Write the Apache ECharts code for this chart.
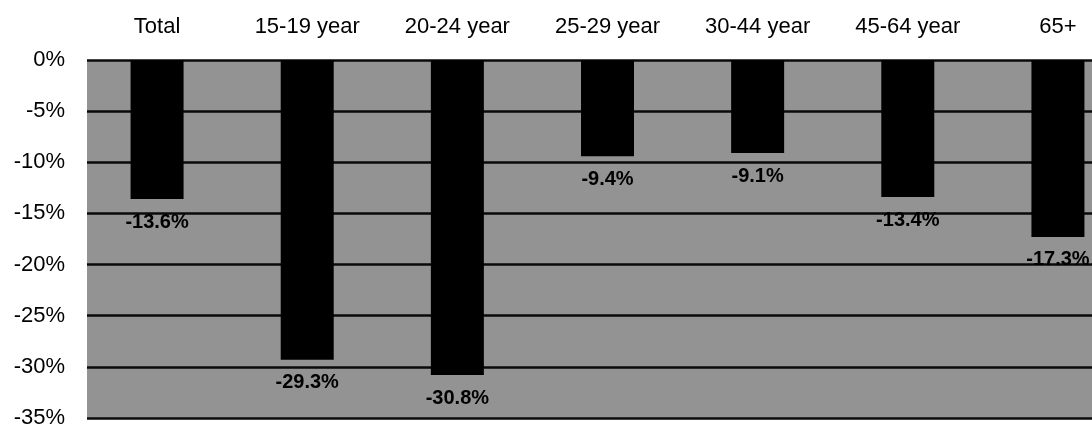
<!DOCTYPE html>
<html>
<head>
<meta charset="utf-8">
<script src="https://cdn.jsdelivr.net/npm/echarts@6/dist/echarts.min.js"></script>
<style>
  html, body { margin: 0; padding: 0; background: #fff; }
  #chart { width: 1092px; height: 428px; }
</style>
</head>
<body>
<div id="chart"></div>
<script>
// Percentage change by age group
const categories = ['Total', '15-19 year', '20-24 year', '25-29 year', '30-44 year', '45-64 year', '65+'];
const changes = [-13.6, -29.3, -30.8, -9.4, -9.1, -13.4, -17.3];
const yMin = -35;
const yMax = 0;
const yStep = 5;

const FONT = "'Liberation Sans', Arial, Helvetica, sans-serif";

const chart = echarts.init(document.getElementById('chart'), null, { renderer: 'canvas' });

chart.setOption({
  backgroundColor: '#ffffff',
  animation: false,
  grid: {
    // the panel runs on past the right edge of the page
    left: 82,
    width: 1051,
    top: 60,
    height: 358,
    outerBoundsMode: 'none',
    containLabel: false,
    show: true,
    backgroundColor: '#939393',
    borderWidth: 0
  },
  xAxis: {
    type: 'category',
    position: 'top',
    data: categories,
    axisLine: { show: false },
    axisTick: { show: false },
    axisLabel: {
      margin: 22,
      fontFamily: FONT,
      fontSize: 22,
      color: '#000'
    },
    splitLine: { show: false }
  },
  yAxis: {
    type: 'value',
    min: yMin,
    max: yMax,
    interval: yStep,
    axisLine: { show: false },
    axisTick: { show: false },
    axisLabel: {
      margin: 17,
      fontFamily: FONT,
      fontSize: 22,
      color: '#000',
      padding: [0, 0, 6, 0],
      formatter: '{value}%'
    },
    splitLine: { show: true, lineStyle: { color: '#0a0a0a', width: 2.5 } }
  },
  graphic: [{
    // white margin to the left of the shaded plot panel
    type: 'rect',
    z: 100,
    left: 78,
    top: 40,
    shape: { width: 9, height: 390 },
    style: { fill: '#ffffff' }
  }],
  series: [{
    type: 'bar',
    data: changes,
    barWidth: 53,
    itemStyle: { color: '#000' },
    label: {
      show: true,
      position: 'bottom',
      distance: 13,
      fontFamily: FONT,
      fontSize: 20,
      fontWeight: 'bold',
      color: '#000',
      formatter: p => p.value.toFixed(1) + '%'
    }
  }]
});
</script>
</body>
</html>
